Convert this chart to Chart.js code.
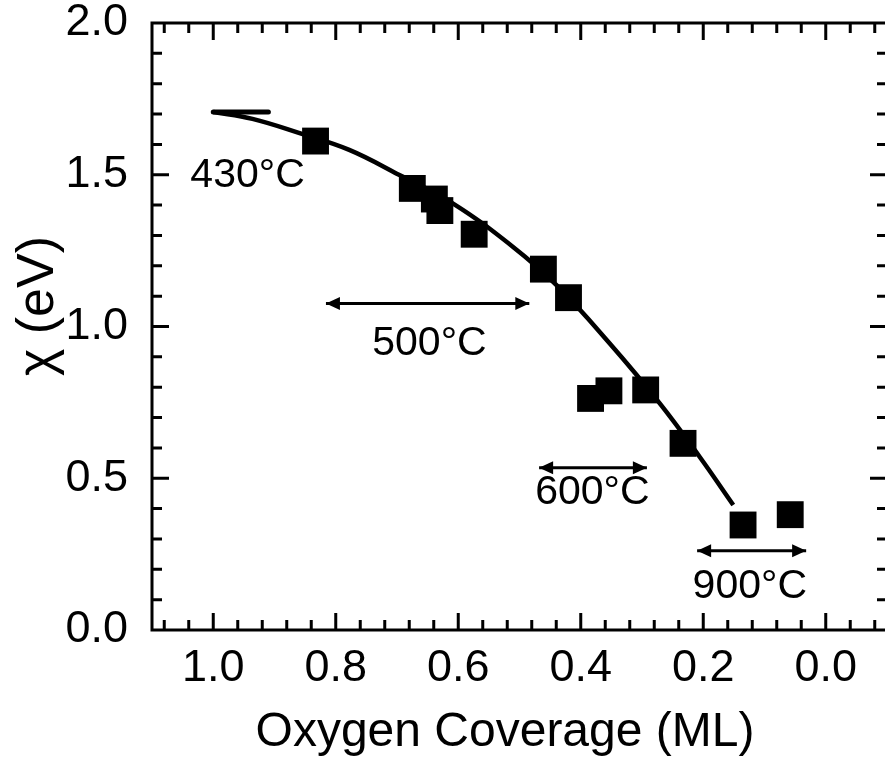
<!DOCTYPE html>
<html><head><meta charset="utf-8">
<script src="https://cdn.jsdelivr.net/npm/chart.js@4"></script>
<style>html,body{margin:0;padding:0;background:#fff;overflow:hidden}</style>
</head><body>
<canvas id="c" width="890" height="763"></canvas>
<script>
// Electron affinity chi versus oxygen coverage
const coverage = [0.833, 0.675, 0.639, 0.630, 0.574, 0.461, 0.420, 0.384, 0.354, 0.294, 0.233, 0.135, 0.058];
const chi      = [1.611, 1.455, 1.420, 1.382, 1.304, 1.189, 1.095, 0.763, 0.788, 0.791, 0.615, 0.346, 0.380];

// guide-to-the-eye curve through the data
const fitCoverage = [1.000, 0.936, 0.859, 0.778, 0.696, 0.609, 0.511, 0.440, 0.353, 0.271, 0.206, 0.151];
const fitChi      = [1.707, 1.684, 1.637, 1.582, 1.499, 1.406, 1.263, 1.137, 0.945, 0.747, 0.571, 0.412];

// short level marker at full coverage
const capCoverage = [1.00, 0.91];
const capChi      = [1.707, 1.707];

// annealing temperature ranges (double arrows)
const rangeFrom = [0.816, 0.468, 0.210];
const rangeTo   = [0.484, 0.292, 0.032];
const rangeChi  = [1.076, 0.535, 0.261];

// temperature labels
const tempLabels   = ['430°C', '500°C', '600°C', '900°C'];
const tempCoverage = [0.944, 0.647, 0.381, 0.124];
const tempChi      = [1.496, 0.942, 0.451, 0.142];

// axes
const xTicks = [1.0, 0.8, 0.6, 0.4, 0.2, 0.0];
const yTicks = [0.0, 0.5, 1.0, 1.5, 2.0];
const xTitle = 'Oxygen Coverage (ML)';
const yTitle = 'χ (eV)';

const FONT = '"Liberation Sans", Arial, Helvetica, sans-serif';

const pts = (xs, ys) => xs.map((x, i) => ({ x, y: ys[i] }));

const datasets = [
  {
    data: pts(fitCoverage, fitChi), showLine: true, borderColor: '#000', borderWidth: 4.5,
    tension: 0.4, pointRadius: 0, fill: false
  },
  {
    data: pts(capCoverage, capChi), showLine: true, borderColor: '#000', borderWidth: 5,
    borderCapStyle: 'round', pointRadius: 0, fill: false
  },
  {
    data: pts(coverage, chi), showLine: false, pointStyle: 'rect', pointRadius: 19,
    backgroundColor: '#000', borderWidth: 0
  }
];
rangeFrom.forEach((f, i) => {
  datasets.push({
    data: [{ x: f, y: rangeChi[i] }, { x: rangeTo[i], y: rangeChi[i] }],
    showLine: true, borderColor: '#000', borderWidth: 3, pointRadius: 0, arrows: true
  });
});

// keep the plot box at fixed margins (no extra room for edge labels)
const noEdgePadding = s => {
  s.paddingTop = 0; s.paddingBottom = 0; s.paddingLeft = 0; s.paddingRight = 0;
};

// double arrow heads, temperature labels, frame with inward ticks, axis titles
const decorations = {
  id: 'decorations',
  afterDatasetsDraw(chart) {
    const ctx = chart.ctx;
    const xs = chart.scales.x, ys = chart.scales.y;
    const a = chart.chartArea;
    ctx.save();
    ctx.fillStyle = '#000';
    chart.data.datasets.forEach((ds, i) => {
      if (!ds.arrows) return;
      const m = chart.getDatasetMeta(i).data;
      const p0 = m[0], p1 = m[1];
      const L = 14, H = 6.5;
      const dir = Math.sign(p1.x - p0.x) || 1;
      ctx.beginPath();
      ctx.moveTo(p0.x, p0.y);
      ctx.lineTo(p0.x + dir * L, p0.y - H);
      ctx.lineTo(p0.x + dir * L, p0.y + H);
      ctx.closePath(); ctx.fill();
      ctx.beginPath();
      ctx.moveTo(p1.x, p1.y);
      ctx.lineTo(p1.x - dir * L, p1.y - H);
      ctx.lineTo(p1.x - dir * L, p1.y + H);
      ctx.closePath(); ctx.fill();
    });

    ctx.font = '41px ' + FONT;
    ctx.textAlign = 'center';
    ctx.textBaseline = 'middle';
    tempLabels.forEach((t, i) => {
      ctx.fillText(t, xs.getPixelForValue(tempCoverage[i]), ys.getPixelForValue(tempChi[i]));
    });

    // frame
    ctx.strokeStyle = '#000';
    ctx.lineWidth = 3;
    ctx.strokeRect(a.left, a.top, a.right - a.left, a.bottom - a.top);

    // inward ticks on all four sides
    ctx.beginPath();
    for (let k = -2; k <= 27; k++) {
      const v = k * 0.04;
      if (v < -0.1 + 1e-9 || v > 1.1 - 1e-9) continue;
      const major = Math.abs(v / 0.2 - Math.round(v / 0.2)) < 1e-6;
      const len = major ? 17 : 10;
      const px = xs.getPixelForValue(v);
      ctx.moveTo(px, a.bottom); ctx.lineTo(px, a.bottom - len);
      ctx.moveTo(px, a.top); ctx.lineTo(px, a.top + len);
    }
    for (let k = 1; k < 20; k++) {
      const v = k * 0.1;
      const len = k % 5 === 0 ? 17 : 10;
      const py = ys.getPixelForValue(v);
      ctx.moveTo(a.left, py); ctx.lineTo(a.left + len, py);
      ctx.moveTo(a.right, py); ctx.lineTo(a.right - len, py);
    }
    ctx.stroke();

    // axis titles
    ctx.font = '48px ' + FONT;
    ctx.textAlign = 'center';
    ctx.textBaseline = 'alphabetic';
    ctx.fillText(xTitle, 505, 746);
    ctx.save();
    ctx.translate(53, 306);
    ctx.rotate(-Math.PI / 2);
    ctx.font = '52px ' + FONT;
    ctx.fillText(yTitle, 0, 0);
    ctx.restore();
    ctx.restore();
  }
};

new Chart(document.getElementById('c'), {
  type: 'scatter',
  data: { datasets },
  options: {
    responsive: false,
    animation: false,
    events: [],
    layout: { autoPadding: false, padding: { top: 23, right: 3, left: 0, bottom: 0 } },
    plugins: { legend: { display: false }, tooltip: { enabled: false } },
    scales: {
      x: {
        type: 'linear', min: -0.1, max: 1.1, reverse: true,
        grid: { display: false, drawTicks: false },
        border: { display: false },
        afterBuildTicks: s => { s.ticks = xTicks.map(v => ({ value: v })); },
        afterFit: s => { s.height = 133; noEdgePadding(s); },
        ticks: { color: '#000', font: { family: FONT, size: 45 }, padding: 12,
                 callback: v => Number(v).toFixed(1), maxRotation: 0, autoSkip: false }
      },
      y: {
        type: 'linear', min: 0, max: 2,
        grid: { display: false, drawTicks: false },
        border: { display: false },
        afterBuildTicks: s => { s.ticks = yTicks.map(v => ({ value: v })); },
        afterFit: s => { s.width = 152; noEdgePadding(s); },
        ticks: { color: '#000', font: { family: FONT, size: 45 }, padding: 24,
                 callback: v => Number(v).toFixed(1), autoSkip: false }
      }
    }
  },
  plugins: [decorations]
});
</script>
</body></html>
